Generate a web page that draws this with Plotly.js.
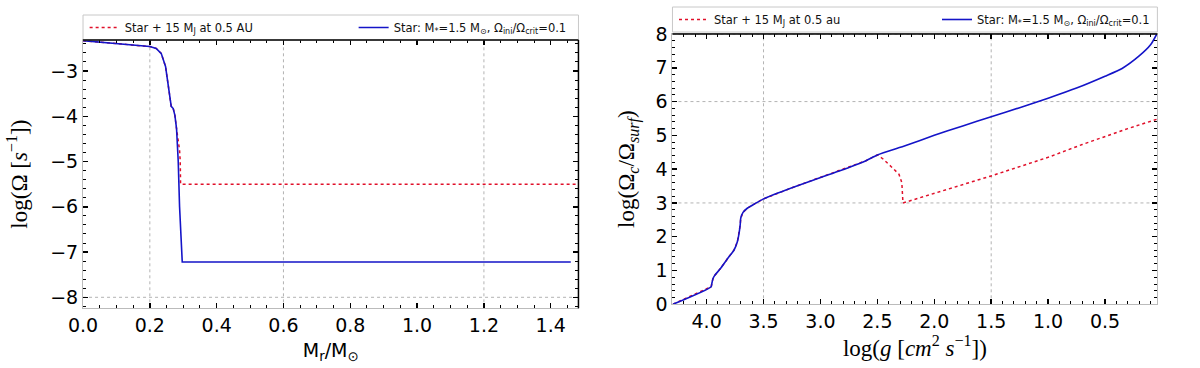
<!DOCTYPE html>
<html>
<head>
<meta charset="utf-8">
<script src="https://cdn.plot.ly/plotly-3.0.1.min.js"></script>
<style>
  html, body { margin: 0; padding: 0; background: #fff; overflow: hidden; }
  #plot { width: 1200px; height: 368px; }
</style>
</head>
<body>
<div id="plot"></div>
<script>
// --- dados ---

// painel esquerdo: log(Omega) em funcao de Mr/Msol
const massStar = [0, 0.05, 0.1, 0.15, 0.2, 0.219, 0.234, 0.247, 0.255, 0.261, 0.264, 0.27, 0.275, 0.28, 0.282, 0.285, 0.289, 0.294, 0.297, 0.6, 1.0, 1.46];
const logOmegaStar = [-2.33, -2.36, -2.39, -2.42, -2.46, -2.50, -2.61, -2.90, -3.35, -3.64, -3.78, -3.83, -3.98, -4.28, -4.6, -5.0, -6.0, -6.73, -7.22, -7.22, -7.22, -7.22];

const massPlanet = [0, 0.05, 0.1, 0.15, 0.2, 0.219, 0.234, 0.247, 0.255, 0.261, 0.264, 0.27, 0.275, 0.28, 0.284, 0.289, 0.291, 0.292, 0.8, 1.483];
const logOmegaPlanet = [-2.33, -2.36, -2.39, -2.42, -2.46, -2.50, -2.61, -2.90, -3.35, -3.64, -3.78, -3.83, -3.98, -4.28, -4.5, -4.75, -5.0, -5.5, -5.5, -5.5];

// painel direito: log(Omega_c/Omega_surf) em funcao de log(g)
const loggStar = [4.296, 3.96, 3.955, 3.945, 3.93, 3.88, 3.81, 3.76, 3.73, 3.715, 3.705, 3.70, 3.68, 3.64, 3.58, 3.5, 3.25, 3.0, 2.75, 2.6, 2.5, 2.25, 2.0, 1.75, 1.5, 1.25, 1.0, 0.75, 0.5, 0.35, 0.2, 0.1, 0.045];
const ratioStar = [0, 0.52, 0.6, 0.75, 0.85, 1.05, 1.38, 1.6, 1.85, 2.1, 2.35, 2.55, 2.72, 2.85, 2.97, 3.12, 3.45, 3.75, 4.05, 4.25, 4.42, 4.7, 5.0, 5.28, 5.55, 5.82, 6.1, 6.4, 6.75, 6.98, 7.35, 7.68, 8.0];

const loggPlanet = [4.296, 3.96, 3.955, 3.945, 3.93, 3.88, 3.81, 3.76, 3.73, 3.715, 3.705, 3.70, 3.68, 3.64, 3.58, 3.5, 3.25, 3.0, 2.75, 2.6, 2.5, 2.45, 2.38, 2.31, 2.285, 2.275, 1.5, 1.0, 0.7, 0.3, 0.04];
const ratioPlanet = [0, 0.52, 0.6, 0.75, 0.85, 1.05, 1.38, 1.6, 1.85, 2.1, 2.35, 2.55, 2.72, 2.85, 2.97, 3.12, 3.45, 3.75, 4.05, 4.25, 4.42, 4.3, 4.08, 3.85, 3.6, 3.0, 3.8, 4.35, 4.73, 5.2, 5.48];

// linhas de grade visiveis na figura original
const gridLeftX = [0.2, 0.6, 1.2];
const gridLeftY = [-8];
const gridRightX = [3.5, 1.5];
const gridRightY = [3, 6, 8];

const nameStar = "Star: M<sub>*</sub>=1.5 M<sub>⊙</sub>, Ω<sub>ini</sub>/Ω<sub>crit</sub>=0.1";

// --- tracos ---
const RED = "#e0102a";
const BLUE = "#1414c8";

const traces = [
    {
        x: massPlanet, y: logOmegaPlanet, xaxis: "x", yaxis: "y",
        mode: "lines", name: "Star + 15 M<sub>J</sub> at 0.5 AU",
        line: { color: RED, width: 1.5, dash: "dot" }, legend: "legend"
    },
    {
        x: massStar, y: logOmegaStar, xaxis: "x", yaxis: "y",
        mode: "lines", name: nameStar,
        line: { color: BLUE, width: 1.6 }, legend: "legend"
    },
    {
        x: loggPlanet, y: ratioPlanet, xaxis: "x2", yaxis: "y2",
        mode: "lines", name: "Star + 15 M<sub>J</sub> at 0.5 au",
        line: { color: RED, width: 1.5, dash: "dot" }, legend: "legend2"
    },
    {
        x: loggStar, y: ratioStar, xaxis: "x2", yaxis: "y2",
        mode: "lines", name: nameStar,
        line: { color: BLUE, width: 1.6, shape: "spline", smoothing: 0.6 }, legend: "legend2"
    }
];

// --- eixos ---
const tickFont = { family: "DejaVu Sans", size: 19, color: "#000" };
const minorTicks = (d) => ({ dtick: d, ticks: "inside", ticklen: 3, tickcolor: "#000", tickwidth: 1 });

function baseAxis(extra) {
    return Object.assign({
        showgrid: false, zeroline: false,
        showline: true, linecolor: "#bbbbbb", linewidth: 1, mirror: "allticks",
        ticks: "inside", ticklen: 5, tickwidth: 1.5, tickcolor: "#000",
        tickfont: tickFont, fixedrange: true
    }, extra);
}

const legendFont = { family: "DejaVu Sans", size: 11.5, color: "#111" };

const layout = {
    width: 1200, height: 368,
    margin: { l: 0, r: 0, t: 0, b: 0 },
    paper_bgcolor: "#fff", plot_bgcolor: "#fff",
    showlegend: true,
    xaxis: baseAxis({
        domain: [0.0703, 0.4898], range: [0, 1.483], anchor: "y",
        dtick: 0.2, tick0: 0, tickformat: ".1f", minor: minorTicks(0.05),
        title: { text: "M<sub>r</sub>/M<sub>⊙</sub>", font: { family: "DejaVu Sans", size: 19, color: "#000" }, standoff: 8 }
    }),
    yaxis: baseAxis({
        domain: [0.1622, 0.8913], range: [-8.243, -2.315], anchor: "x",
        dtick: 1, minor: minorTicks(0.2),
        title: { text: "log(Ω [<i>s</i><sup>−1</sup>])", font: { family: "Liberation Serif", size: 23, color: "#000" }, standoff: 16 }
    }),
    xaxis2: baseAxis({
        domain: [0.5694, 0.98], range: [4.30, 0.04], anchor: "y2",
        dtick: 0.5, tick0: 0, tickformat: ".1f", minor: minorTicks(0.1),
        title: { text: "log(<i>g</i> [<i>cm</i><sup>2</sup> <i>s</i><sup>−1</sup>])", font: { family: "Liberation Serif", size: 23, color: "#000" }, standoff: 8 }
    }),
    yaxis2: baseAxis({
        domain: [0.1731, 0.9076], range: [0, 8.0], anchor: "x2",
        dtick: 1, minor: minorTicks(0.2),
        title: { text: "log(Ω<sub><i>c</i></sub>/Ω<sub><i>surf</i></sub>)", font: { family: "Liberation Serif", size: 23, color: "#000" }, standoff: 14 }
    }),
    legend: {
        x: 86 / 1200, y: 1 - 27.5 / 368, xanchor: "left", yanchor: "middle",
        orientation: "h", bgcolor: "rgba(0,0,0,0)", borderwidth: 0,
        font: legendFont, entrywidth: 224, entrywidthmode: "pixels", itemwidth: 30
    },
    legend2: {
        x: 685 / 1200, y: 1 - 19.5 / 368, xanchor: "left", yanchor: "middle",
        orientation: "h", bgcolor: "rgba(0,0,0,0)", borderwidth: 0,
        font: legendFont, entrywidth: 218, entrywidthmode: "pixels", itemwidth: 30
    },
    shapes: []
};

// caixas das legendas
layout.shapes.push(
    { type: "rect", xref: "paper", yref: "paper", x0: 0.0703, x1: 0.4898, y0: 1 - 40 / 368, y1: 1 - 15 / 368,
      line: { color: "#c8c8c8", width: 1 }, fillcolor: "#fff", layer: "above" },
    { type: "rect", xref: "paper", yref: "paper", x0: 0.5694, x1: 0.98, y0: 1 - 32 / 368, y1: 1 - 7 / 368,
      line: { color: "#c8c8c8", width: 1 }, fillcolor: "#fff", layer: "above" }
);

// grade pontilhada
function gridV(vals, xr, yr) {
    vals.forEach(v => layout.shapes.push({
        type: "line", xref: xr, yref: yr + " domain", x0: v, x1: v, y0: 0, y1: 1,
        line: { color: "#a0a0a0", width: 0.8, dash: "dot" }, layer: "below"
    }));
}
function gridH(vals, xr, yr) {
    vals.forEach(v => layout.shapes.push({
        type: "line", xref: xr + " domain", yref: yr, x0: 0, x1: 1, y0: v, y1: v,
        line: { color: "#a0a0a0", width: 0.8, dash: "dot" }, layer: "below"
    }));
}
gridV(gridLeftX, "x", "y");
gridH(gridLeftY, "x", "y");
gridV(gridRightX, "x2", "y2");
gridH(gridRightY, "x2", "y2");

// bordas pretas (topo dos dois paineis, direita do painel esquerdo)
layout.shapes.push(
    { type: "line", xref: "x domain", yref: "y domain", x0: 0, x1: 1, y0: 1, y1: 1, line: { color: "#000", width: 1.5 }, layer: "above" },
    { type: "line", xref: "x domain", yref: "y domain", x0: 1, x1: 1, y0: 0, y1: 1, line: { color: "#000", width: 1.5 }, layer: "above" },
    { type: "line", xref: "x2 domain", yref: "y2 domain", x0: 0, x1: 1, y0: 1, y1: 1, line: { color: "#000", width: 1.5 }, layer: "above" }
);

Plotly.newPlot("plot", traces, layout, { staticPlot: true, displayModeBar: false });
</script>
</body>
</html>
